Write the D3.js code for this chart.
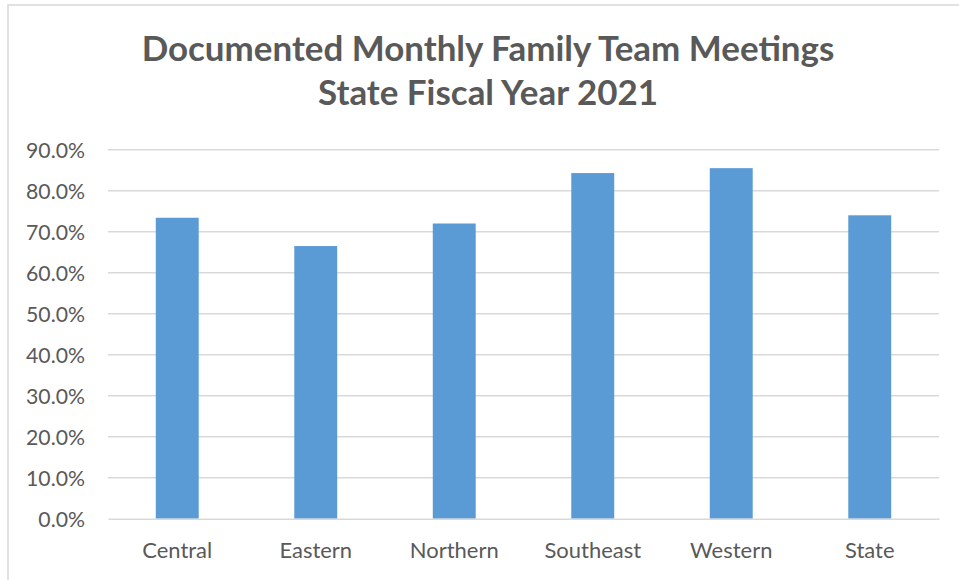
<!DOCTYPE html>
<html>
<head>
<meta charset="utf-8">
<script src="https://cdn.jsdelivr.net/npm/d3@7"></script>
<style>
  html, body { margin: 0; padding: 0; background: #fff; }
  svg { display: block; }
</style>
</head>
<body>
<svg id="chart" width="959" height="580"></svg>
<script>
// ---- data ----
const categories = ["Central", "Eastern", "Northern", "Southeast", "Western", "State"];
const values = [0.734, 0.665, 0.720, 0.843, 0.855, 0.740];
const tickValues = [0, 0.1, 0.2, 0.3, 0.4, 0.5, 0.6, 0.7, 0.8, 0.9];
const titleLines = ["Documented Monthly Family Team Meetings", "State Fiscal Year 2021"];

// ---- layout ----
const W = 959, H = 580;
const plot = { left: 108, right: 939, top: 149.7, bottom: 518.7 };
const FONT = "Lato, 'Open Sans', 'Liberation Sans', sans-serif";

const svg = d3.select("#chart");

// chart border
svg.append("rect")
  .attr("x", 8).attr("y", 5)
  .attr("width", W + 10).attr("height", H + 10)
  .attr("fill", "#fff")
  .attr("stroke", "#D9D9D9").attr("stroke-width", 1.5);

const x = d3.scaleBand()
  .domain(categories)
  .range([plot.left, plot.right])
  .paddingInner(0.69)
  .paddingOuter(0.345);

const y = d3.scaleLinear()
  .domain([0, 0.9])
  .range([plot.bottom, plot.top]);

// gridlines
const grid = svg.append("g");
grid.selectAll("line")
  .data(tickValues.filter(d => d > 0))
  .join("line")
  .attr("x1", plot.left).attr("x2", plot.right)
  .attr("y1", d => y(d)).attr("y2", d => y(d))
  .attr("stroke", "#D9D9D9").attr("stroke-width", 1.5);

// fit font size to target width
function fit(sel, targetWidth) {
  const s0 = 20;
  sel.attr("font-size", s0);
  const w = sel.node().getComputedTextLength();
  sel.attr("font-size", s0 * targetWidth / w);
}

// y axis labels
const yAxis = svg.append("g")
  .attr("transform", `translate(${plot.left},0)`)
  .call(d3.axisLeft(y).tickValues(tickValues).tickFormat(d3.format(".1%")).tickSize(0).tickPadding(23));
yAxis.select(".domain").remove();
yAxis.selectAll("text")
  .attr("fill", "#595959")
  .attr("font-family", FONT)
  .attr("dy", "0.36em");
{
  const t = yAxis.selectAll("text").filter(d => d === 0.9);
  t.attr("font-size", 20);
  const w = t.node().getComputedTextLength();
  const fs = 20 * 59 / w;
  yAxis.selectAll("text").attr("font-size", fs);
}

// bars
svg.append("g").selectAll("rect")
  .data(categories.map((c, i) => ({ c, v: values[i] })))
  .join("rect")
  .attr("x", d => x(d.c))
  .attr("width", x.bandwidth())
  .attr("y", d => y(d.v))
  .attr("height", d => y(0) - y(d.v))
  .attr("fill", "#5B9BD5");

// x axis
const xAxis = svg.append("g")
  .attr("transform", `translate(0,${plot.bottom})`)
  .call(d3.axisBottom(x).tickSize(0).tickPadding(24));
xAxis.select(".domain")
  .attr("stroke", "#D9D9D9").attr("stroke-width", 1.5);
xAxis.selectAll("text")
  .attr("fill", "#595959")
  .attr("font-family", FONT)
  .attr("dy", "0.71em");
{
  const t = xAxis.selectAll("text").filter(d => d === "Central");
  t.attr("font-size", 20);
  const w = t.node().getComputedTextLength();
  xAxis.selectAll("text").attr("font-size", 20 * 70 / w);
}

// title
const titleG = svg.append("g");
const t1 = titleG.append("text")
  .attr("x", 488).attr("y", 61)
  .attr("text-anchor", "middle")
  .attr("font-family", FONT).attr("font-weight", "bold")
  .attr("fill", "#595959")
  .text(titleLines[0]);
fit(t1, 693);
const t2 = titleG.append("text")
  .attr("x", 488).attr("y", 105)
  .attr("text-anchor", "middle")
  .attr("font-family", FONT).attr("font-weight", "bold")
  .attr("fill", "#595959")
  .attr("font-size", t1.attr("font-size"))
  .text(titleLines[1]);
</script>
</body>
</html>
